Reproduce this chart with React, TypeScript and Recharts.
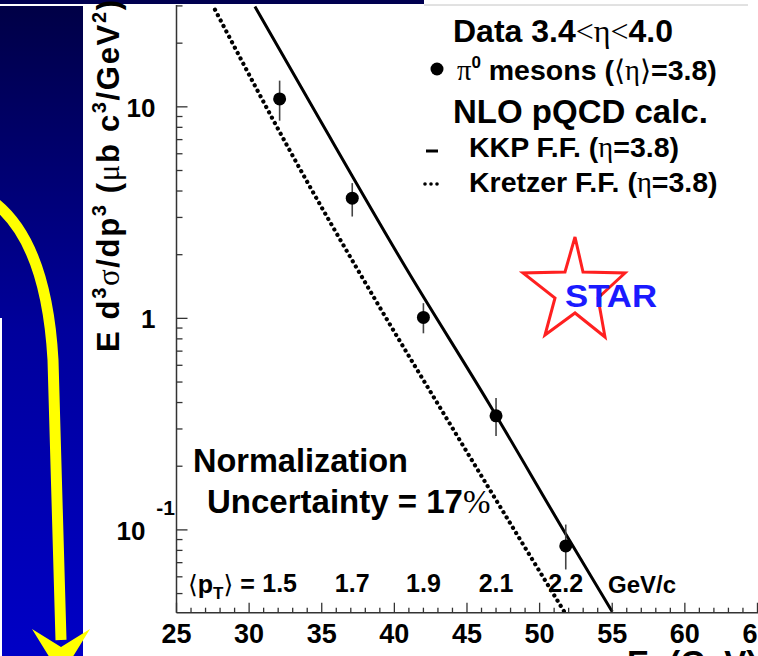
import React from 'react';
import { ComposedChart, Line, Scatter, ErrorBar, XAxis, YAxis } from 'recharts';

// STAR forward pi0 cross section, 3.4 < eta < 4.0
const pi0X = [32.1, 37.1, 42.0, 47.0, 51.8];
const pi0Y = [10.9, 3.7, 1.01, 0.346, 0.084];
const pi0ErrUp = [2.4, 0.66, 0.17, 0.074, 0.022];
const pi0ErrDown = [2.3, 0.67, 0.16, 0.068, 0.019];
const meanPt = ['1.5', '1.7', '1.9', '2.1', '2.2'];
const PT_ROW_Y = 0.056;

// NLO pQCD curves
const kkpX = [30.4, 34.8, 40.8, 46.5, 51.9, 55.0];
const kkpY = [29.8, 8.85, 1.73, 0.397, 0.093, 0.041];
const kretzerX = [27.65, 32.9, 38.7, 43.8, 48.6, 51.7];
const kretzerY = [28.8, 6.04, 1.22, 0.319, 0.0914, 0.041];

const xTicks = Array.from({ length: 42 }, (_, i) => 25 + i);
const xLabels = [25, 30, 35, 40, 45, 50, 55, 60, 65];
const yTicks = [
  0.05, 0.06, 0.07, 0.08, 0.09, 0.1, 0.2, 0.3, 0.4, 0.5, 0.6, 0.7, 0.8, 0.9,
  1, 2, 3, 4, 5, 6, 7, 8, 9, 10, 20, 30,
];
const yMajor = [0.1, 1, 10];

const SANS = "'Liberation Sans', Arial, Helvetica, sans-serif";
const SERIF = "'Liberation Serif', 'DejaVu Serif', serif";
const AXIS = '#333';

function XTick(props: any) {
  const { x, y, payload } = props;
  const v = payload.value;
  const major = xLabels.includes(v);
  return (
    <g>
      <line x1={x} x2={x} y1={y} y2={y - (major ? 10 : 5)} stroke={AXIS} strokeWidth={1.3} />
      {major && (
        <text x={x} y={y + 30} textAnchor="middle" fontSize={27} fontWeight={700} fontFamily={SANS} fill="#000">
          {v}
        </text>
      )}
    </g>
  );
}

function YTick(props: any) {
  const { x, y, payload } = props;
  const v = payload.value;
  const major = yMajor.includes(v);
  let label = null;
  if (v === 10 || v === 1) {
    label = (
      <text x={x - 21} y={y + 10} textAnchor="end" fontSize={26} fontWeight={700} fontFamily={SANS} fill="#000">
        {v}
      </text>
    );
  } else if (v === 0.1) {
    label = (
      <g fontWeight={700} fontFamily={SANS} fill="#000">
        <text x={x - 31} y={y + 10} textAnchor="end" fontSize={26}>10</text>
        <text x={x - 1.5} y={y - 15} textAnchor="end" fontSize={21}>-1</text>
      </g>
    );
  }
  return (
    <g>
      <line x1={x} x2={x + (major ? 11 : 6)} y1={y} y2={y} stroke={AXIS} strokeWidth={1.3} />
      {label}
    </g>
  );
}

const DataDot = (props: any) => <circle cx={props.cx} cy={props.cy} r={6.5} fill="#000" />;

const PtLabel = (props: any) => (
  <text x={props.cx} y={props.cy + 9} textAnchor="middle" fontSize={25} fontWeight={700} fontFamily={SANS} fill="#000">
    {props.payload.label}
  </text>
);

export default function App() {
  const pi0Data = pi0X.map((x, i) => ({ x, y: pi0Y[i], err: [pi0ErrDown[i], pi0ErrUp[i]] }));
  const ptData = pi0X.map((x, i) => ({ x, y: PT_ROW_Y, label: meanPt[i] }));
  const kkpData = kkpX.map((x, i) => ({ x, y: kkpY[i] }));
  const kretzerData = kretzerX.map((x, i) => ({ x, y: kretzerY[i] }));

  return (
    <div
      style={{
        position: 'absolute',
        left: 0,
        top: 0,
        width: 758,
        height: 656,
        overflow: 'hidden',
        background: '#fff',
        fontFamily: SANS,
      }}
    >
      <ComposedChart width={800} height={656} margin={{ top: 5, right: 28, bottom: 0, left: 0 }}>
        <XAxis
          dataKey="x"
          type="number"
          domain={[25, 66]}
          ticks={xTicks}
          interval={0}
          allowDataOverflow
          height={43.3}
          tickSize={0}
          tickMargin={0}
          tickLine={false}
          axisLine={{ stroke: AXIS, strokeWidth: 1.5 }}
          tick={(p: any) => <XTick {...p} />}
        />
        <YAxis
          type="number"
          scale="log"
          domain={[0.0406, 30.3]}
          ticks={yTicks}
          interval={0}
          allowDataOverflow
          width={176.5}
          tickSize={0}
          tickMargin={0}
          tickLine={false}
          axisLine={{ stroke: AXIS, strokeWidth: 1.5 }}
          tick={(p: any) => <YTick {...p} />}
        />
        <Line
          data={kretzerData}
          dataKey="y"
          type="monotone"
          stroke="#000"
          strokeWidth={4.2}
          strokeDasharray="0.1 6"
          strokeLinecap="round"
          dot={false}
          activeDot={false}
          isAnimationActive={false}
        />
        <Line
          data={kkpData}
          dataKey="y"
          type="monotone"
          stroke="#000"
          strokeWidth={3}
          dot={false}
          activeDot={false}
          isAnimationActive={false}
        />
        <Scatter data={pi0Data} dataKey="y" shape={DataDot} isAnimationActive={false}>
          <ErrorBar dataKey="err" direction="y" width={0} stroke="#444" strokeWidth={1.6} />
        </Scatter>
        <Scatter data={ptData} dataKey="y" shape={PtLabel} isAnimationActive={false} />
      </ComposedChart>

      <svg
        width={758}
        height={656}
        style={{ position: 'absolute', left: 0, top: 0, pointerEvents: 'none' }}
        fontFamily={SANS}
      >
        <defs>
          <linearGradient id="panel" x1="0" y1="0" x2="0" y2="1">
            <stop offset="0" stopColor="#000046" />
            <stop offset="0.5" stopColor="#00009c" />
            <stop offset="1" stopColor="#0000c6" />
          </linearGradient>
        </defs>
        {/* slide decoration */}
        <rect x={0} y={0} width={424} height={4} fill="#000050" />
        <line x1={424} x2={748} y1={5} y2={5} stroke="#c4c4c4" strokeWidth={1} />
        <rect x={0} y={6} width={83} height={650} fill="url(#panel)" />
        <rect x={0} y={318} width={2} height={338} fill="#fff" />
        <path d="M -12 198 Q 46 236 53 360 L 61 640" fill="none" stroke="#ffff00" strokeWidth={11} />
        <polygon points="32,629 61,647 90,629 61,676" fill="#ffff00" />

        {/* axis titles */}
        <text transform="translate(119,352) rotate(-90)" fontSize={31} fontWeight={700} textLength={352} lengthAdjust="spacing">
          E d<tspan dy={-13} fontSize={20}>3</tspan>
          <tspan dy={13} fontFamily={SERIF} fontWeight={400}>σ</tspan>/dp
          <tspan dy={-13} fontSize={20}>3</tspan>
          <tspan dy={13}> (</tspan>
          <tspan fontFamily={SERIF} fontWeight={400}>μ</tspan>b c
          <tspan dy={-13} fontSize={20}>3</tspan>
          <tspan dy={13}>/GeV</tspan>
          <tspan dy={-13} fontSize={20}>2</tspan>
          <tspan dy={13}>)</tspan>
        </text>
        <text x={627} y={674} fontSize={33} fontWeight={700}>
          E<tspan dy={8} fontSize={22} fontFamily={SERIF} fontWeight={400}>π</tspan>
          <tspan dy={-8}> (GeV)</tspan>
        </text>

        {/* legend */}
        <text x={453} y={42} fontSize={32} fontWeight={700}>
          Data 3.4<tspan fontFamily={SERIF} fontWeight={400}>&lt;η&lt;</tspan>4.0
        </text>
        <circle cx={437} cy={69} r={6.5} fill="#000" />
        <text x={457} y={80} fontSize={28.5} fontWeight={700}>
          <tspan fontFamily={SERIF} fontWeight={400}>π</tspan>
          <tspan dy={-12} fontSize={17}>0</tspan>
          <tspan dy={12}> mesons (</tspan>
          <tspan fontFamily={SERIF} fontWeight={400}>⟨η⟩</tspan>=3.8)
        </text>
        <text x={453} y={123} fontSize={33} fontWeight={700}>NLO pQCD calc.</text>
        <line x1={426} x2={438} y1={151} y2={151} stroke="#000" strokeWidth={3} />
        <text x={469} y={157} fontSize={28.5} fontWeight={700}>
          KKP F.F. (<tspan fontFamily={SERIF} fontWeight={400}>η</tspan>=3.8)
        </text>
        <circle cx={425} cy={184} r={1.8} fill="#000" />
        <circle cx={431} cy={184} r={1.8} fill="#000" />
        <circle cx={437} cy={184} r={1.8} fill="#000" />
        <text x={469} y={192} fontSize={28.5} fontWeight={700}>
          Kretzer F.F. (<tspan fontFamily={SERIF} fontWeight={400}>η</tspan>=3.8)
        </text>

        {/* STAR logo */}
        <polygon
          points="575,237 583,272 625,273 598,298 605,337 575,313 545,335 555,298 523,273 565,272"
          fill="none"
          stroke="#ff2020"
          strokeWidth={3}
          strokeLinejoin="miter"
        />
        <text x={565} y={307} fontSize={32} fontWeight={700} fill="#1a1aff" textLength={92} lengthAdjust="spacingAndGlyphs">
          STAR
        </text>

        {/* annotations */}
        <text x={193} y={472} fontSize={32.5} fontWeight={700}>Normalization</text>
        <text x={207} y={513} fontSize={33} fontWeight={700}>
          Uncertainty = 17<tspan fontFamily={SERIF} fontWeight={400}>%</tspan>
        </text>
        <text x={188} y={593} fontSize={25} fontWeight={700}>
          <tspan fontFamily={SERIF} fontWeight={400}>⟨</tspan>p
          <tspan dy={6} fontSize={17}>T</tspan>
          <tspan dy={-6} fontFamily={SERIF} fontWeight={400}>⟩</tspan> =
        </text>
        <text x={608} y={593} fontSize={24} fontWeight={700}>GeV/c</text>
      </svg>
    </div>
  );
}
